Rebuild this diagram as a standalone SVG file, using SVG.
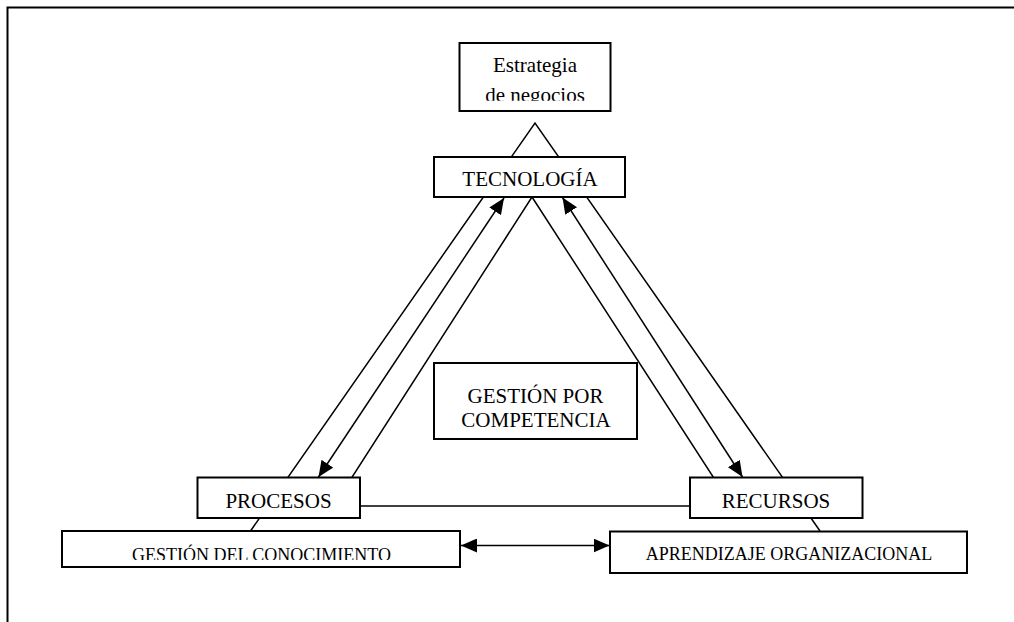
<svg xmlns="http://www.w3.org/2000/svg" width="1014" height="622" viewBox="0 0 1014 622">
  <style>
    .box { fill: #fff; stroke: #000; stroke-width: 2; }
    .ln { fill: none; stroke: #000; stroke-width: 1.5; }
    .frame { fill: none; stroke: #000; stroke-width: 2; }
    text { font-family: "Liberation Serif", "Times New Roman", serif; fill: #000; text-anchor: middle; }
    .t21 { font-size: 21px; }
    .t18 { font-size: 18px; }
  </style>
  <defs>
    <marker id="ah" viewBox="0 0 16 14" refX="16" refY="7" markerWidth="16" markerHeight="14" markerUnits="userSpaceOnUse" orient="auto-start-reverse">
      <path d="M0,0 L16,7 L0,14 Z" fill="#000"/>
    </marker>
    <clipPath id="clipEstr"><rect x="460" y="44" width="150" height="56.7"/></clipPath>
    <clipPath id="clipGdc"><rect x="63" y="532" width="396" height="28"/></clipPath>
  </defs>

  <rect width="1014" height="622" fill="#fff"/>
  <!-- page frame -->
  <polyline class="frame" points="7.5,622 7.5,7.5 1014,7.5"/>

  <g id="connectors">
    <!-- outer triangle -->
    <polyline class="ln" points="250.5,531 535,123 820,531"/>
    <!-- inner triangle -->
    <polygon class="ln" points="532,197 333.5,506 732,506"/>
    <!-- bidirectional links -->
    <line class="ln" x1="504" y1="198" x2="318.5" y2="477" marker-start="url(#ah)" marker-end="url(#ah)"/>
    <line class="ln" x1="562.5" y1="197.5" x2="742.5" y2="477" marker-start="url(#ah)" marker-end="url(#ah)"/>
    <line class="ln" x1="461" y1="545.5" x2="609.5" y2="545.5" marker-start="url(#ah)" marker-end="url(#ah)"/>
  </g>

  <g id="estrategia">
    <rect class="box" x="459.5" y="43" width="151" height="68"/>
    <g clip-path="url(#clipEstr)">
      <text class="t21" x="535" y="72">Estrategia</text>
      <text class="t21" x="535" y="101.5">de negocios</text>
    </g>
  </g>

  <g id="tecnologia">
    <rect class="box" x="434" y="157" width="191" height="40"/>
    <text class="t21" x="530" y="186">TECNOLOGÍA</text>
  </g>

  <g id="gestion-competencia">
    <rect class="box" x="434" y="363" width="203" height="76"/>
    <text class="t21" x="535.5" y="402.5">GESTIÓN POR</text>
    <text class="t21" x="536" y="427">COMPETENCIA</text>
  </g>

  <g id="procesos">
    <rect class="box" x="197.5" y="477.5" width="162.5" height="40.5"/>
    <text class="t21" x="278.5" y="507.5">PROCESOS</text>
  </g>

  <g id="recursos">
    <rect class="box" x="690" y="477.5" width="172.5" height="40.5"/>
    <text class="t21" x="776" y="507.5">RECURSOS</text>
  </g>

  <g id="gestion-conocimiento">
    <rect class="box" x="62" y="531" width="398" height="36"/>
    <g clip-path="url(#clipGdc)">
      <text class="t18" x="261.5" y="561">GESTIÓN DEL CONOCIMIENTO</text>
    </g>
  </g>

  <g id="aprendizaje">
    <rect class="box" x="610" y="531.5" width="357" height="41.5"/>
    <text class="t18" x="789" y="559.5">APRENDIZAJE ORGANIZACIONAL</text>
  </g>
</svg>
